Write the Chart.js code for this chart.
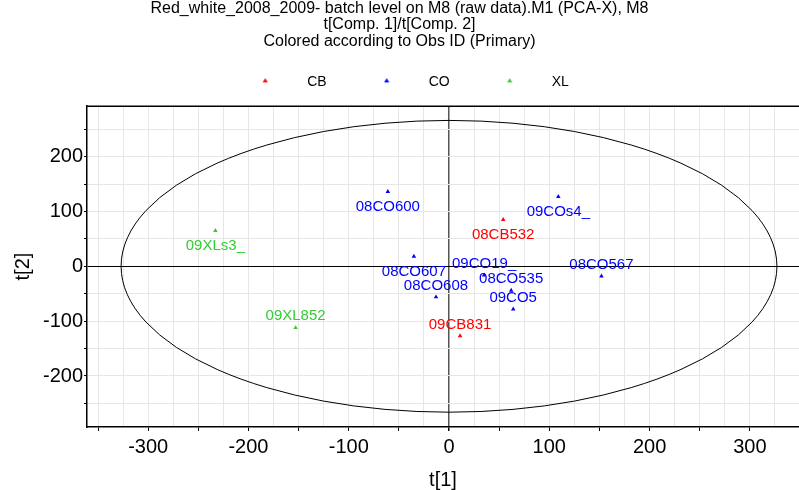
<!DOCTYPE html>
<html>
<head>
<meta charset="utf-8">
<script src="https://cdn.jsdelivr.net/npm/chart.js@4.4.1/dist/chart.umd.min.js"></script>
<style>
  html, body { margin: 0; padding: 0; background: #fff; }
  #wrap { width: 799px; height: 490px; }
</style>
</head>
<body>
<div id="wrap"><canvas id="scoreChart"></canvas></div>
<script>
// Scores per class: t[1] and t[2]
const cbNames = ['08CB532', '09CB831'];
const cbT1 = [54, 11];
const cbT2 = [85, -127];

const coNames = ['08CO600', '09COs4_', '08CO607', '08CO567', '09CO19_', '08CO535', '09CO5', '08CO608'];
const coT1 = [-61, 109, -35, 152, 35, 62, 64, -13];
const coT2 = [136, 127, 18, -18, -16, -44, -78, -56];

const xlNames = ['09XLs3_', '09XL852'];
const xlT1 = [-233, -153];
const xlT2 = [65, -112];

// Hotelling T2 ellipse, semi-axes on t[1] and t[2]
const ellipseAxes = [327, 266];

const titleLines = [
    'Red_white_2008_2009- batch level on M8 (raw data).M1 (PCA-X), M8',
    't[Comp. 1]/t[Comp. 2]',
    'Colored according to Obs ID (Primary)'
];

// labels drawn under their point (the rest go above)
const labelsBelow = ['08CO600', '09COs4_', '08CB532', '08CO607', '09XLs3_'];

const FONT = '"Liberation Sans", Arial, sans-serif';
Chart.defaults.font.family = FONT;
Chart.defaults.color = '#000';

const toPoints = (xs, ys) => xs.map((v, i) => ({ x: v, y: ys[i] }));

function triangleIcon(color) {
    const c = document.createElement('canvas');
    c.width = 6; c.height = 10;
    const g = c.getContext('2d');
    g.fillStyle = color;
    g.beginPath();
    g.moveTo(3, 1); g.lineTo(5.6, 5.2); g.lineTo(0.4, 5.2);
    g.closePath(); g.fill();
    return c;
}

// small gap between legend and plot
const topGap = {
    id: 'topGap',
    beforeInit(chart) {
        Chart.layouts.addBox(chart, {
            position: 'top', weight: 100, fullSize: true, options: {},
            top: 0, left: 0, right: 0, bottom: 0, width: 0, height: 0,
            isHorizontal() { return true; },
            update(w) { this.width = w; this.height = 7; },
            getPadding() { return { top: 0, left: 0, right: 0, bottom: 0 }; },
            draw() {}
        });
    }
};

const scorePlot = {
    id: 'scorePlot',
    beforeDatasetsDraw(chart) {
        const { ctx, chartArea: a, scales: { x, y } } = chart;
        const cx = x.getPixelForValue(0), cy = y.getPixelForValue(0);
        const rx = x.getPixelForValue(ellipseAxes[0]) - cx;
        const ry = cy - y.getPixelForValue(ellipseAxes[1]);
        ctx.save();
        ctx.beginPath();
        ctx.rect(a.left, a.top, a.right - a.left, a.bottom - a.top);
        ctx.clip();
        ctx.strokeStyle = '#000';
        ctx.lineWidth = 1;
        ctx.beginPath();
        ctx.ellipse(cx, cy, rx, ry, 0, 0, Math.PI * 2);
        ctx.stroke();
        ctx.restore();

        ctx.save();
        ctx.strokeStyle = '#000';
        ctx.lineWidth = 1.5;
        ctx.beginPath();
        ctx.moveTo(a.left, a.top);
        ctx.lineTo(a.right, a.top);
        ctx.stroke();
        ctx.restore();
    },
    afterDatasetsDraw(chart) {
        const { ctx } = chart;
        ctx.save();
        ctx.font = '15px ' + FONT;
        ctx.textAlign = 'center';
        ctx.textBaseline = 'middle';
        chart.data.datasets.forEach((ds, i) => {
            ctx.fillStyle = ds.pointBackgroundColor;
            chart.getDatasetMeta(i).data.forEach((pt, j) => {
                const name = ds.names[j];
                const dy = labelsBelow.includes(name) ? 15.5 : -11.5;
                ctx.fillText(name, pt.x, pt.y + dy);
            });
        });
        ctx.restore();
    }
};

const isMult = (v, m) => Math.abs(v % m) < 1e-6;

new Chart(document.getElementById('scoreChart'), {
    type: 'scatter',
    data: {
        datasets: [
            { label: 'CB', names: cbNames, data: toPoints(cbT1, cbT2), pointBackgroundColor: '#ff0000' },
            { label: 'CO', names: coNames, data: toPoints(coT1, coT2), pointBackgroundColor: '#0000ff' },
            { label: 'XL', names: xlNames, data: toPoints(xlT1, xlT2), pointBackgroundColor: '#33cc33' }
        ].map(d => Object.assign(d, {
            pointStyle: 'triangle', pointRadius: 2.6, pointBorderWidth: 0,
            pointBorderColor: d.pointBackgroundColor
        }))
    },
    options: {
        responsive: true,
        maintainAspectRatio: false,
        animation: false,
        layout: { padding: 0, autoPadding: false },
        plugins: {
            title: {
                display: true,
                text: titleLines,
                font: { size: 16, weight: 'normal', lineHeight: 1.045 },
                color: '#000',
                padding: { top: 0, bottom: 0 }
            },
            legend: {
                position: 'top',
                labels: {
                    usePointStyle: true,
                    pointStyleWidth: 70,
                    padding: 25,
                    color: '#000',
                    font: { size: 14 },
                    generateLabels: chart => chart.data.datasets.map((ds, i) => ({
                        text: ds.label,
                        pointStyle: triangleIcon(ds.pointBackgroundColor),
                        fillStyle: ds.pointBackgroundColor,
                        strokeStyle: ds.pointBackgroundColor,
                        lineWidth: 0,
                        hidden: false,
                        datasetIndex: i
                    }))
                }
            },
            tooltip: { enabled: false }
        },
        scales: {
            x: {
                type: 'linear',
                position: 'bottom',
                min: -361,
                max: 349,
                ticks: {
                    stepSize: 25,
                    maxTicksLimit: 100,
                    includeBounds: false,
                    autoSkip: false,
                    maxRotation: 0,
                    padding: 0,
                    color: '#000',
                    font: { size: 20, lineHeight: 1.6 },
                    callback: v => isMult(v, 100) ? String(v) : ''
                },
                grid: {
                    color: c => (c.tick && c.tick.value === 0) ? '#555' : '#e6e6e6',
                    lineWidth: c => (c.tick && c.tick.value === 0) ? 1.5 : 1,
                    tickColor: c => (c.tick && isMult(c.tick.value, 50)) ? '#000' : 'rgba(0,0,0,0)',
                    tickLength: 4
                },
                border: { color: '#000', width: 1.5 },
                title: {
                    display: true,
                    text: 't[1]',
                    color: '#000',
                    font: { size: 20, lineHeight: 1 },
                    padding: 0
                },
                afterFit(s) { s.height = 63; }
            },
            y: {
                type: 'linear',
                min: -293,
                max: 292,
                ticks: {
                    stepSize: 50,
                    maxTicksLimit: 100,
                    includeBounds: false,
                    autoSkip: false,
                    padding: 1,
                    color: '#000',
                    font: { size: 20 },
                    callback: v => isMult(v, 100) ? String(v) : ''
                },
                grid: {
                    color: c => (c.tick && c.tick.value === 0) ? '#000' : '#e6e6e6',
                    tickColor: '#000',
                    tickLength: 3
                },
                border: { color: '#000', width: 1.5 },
                title: {
                    display: true,
                    text: 't[2]',
                    color: '#000',
                    font: { size: 20, lineHeight: 1 },
                    padding: { top: 13, bottom: 0 }
                },
                afterFit(s) { s.width = 87; }
            }
        }
    },
    plugins: [topGap, scorePlot]
});
</script>
</body>
</html>
